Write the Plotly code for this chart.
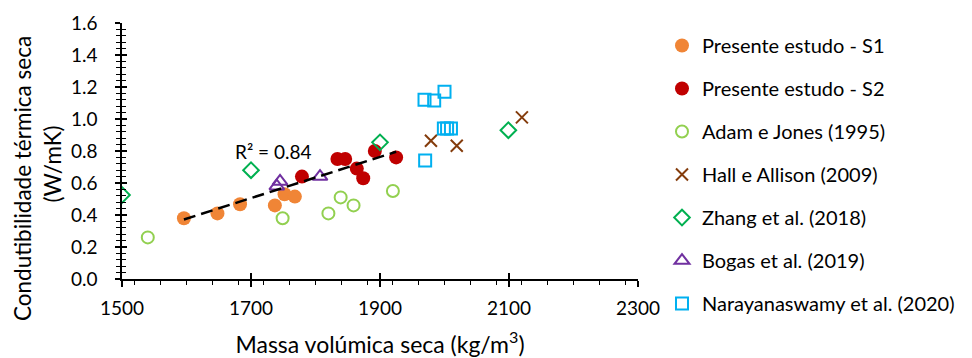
import plotly.graph_objects as go

# ---- data ----
s1_x = [1596, 1648, 1683, 1737, 1752, 1768]
s1_y = [0.38, 0.41, 0.467, 0.46, 0.53, 0.515]
s2_x = [1779, 1834, 1846, 1864, 1874, 1892, 1925]
s2_y = [0.64, 0.75, 0.75, 0.69, 0.63, 0.80, 0.76]
adam_x = [1540, 1749, 1820, 1839, 1859, 1920]
adam_y = [0.26, 0.38, 0.41, 0.51, 0.46, 0.55]
hall_x = [1979, 2019, 2120]
hall_y = [0.864, 0.833, 1.01]
zhang_x = [1500, 1700, 1900, 2099]
zhang_y = [0.525, 0.68, 0.854, 0.93]
bogas_x = [1740, 1745, 1807]
bogas_y = [0.58, 0.61, 0.64]
nara_x = [1969, 1984, 2000, 1999, 2004, 2010, 1970]
nara_y = [1.12, 1.115, 1.17, 0.94, 0.94, 0.94, 0.74]
trend_x = [1596, 1925]
trend_y = [0.372, 0.795]
x_ticks = [1500, 1700, 1900, 2100, 2300]
r2_label = "R² = 0.84"
y_title = ["Condutibilidade térmica seca", "(W/mK)"]

FONT = "Lato"
fig = go.Figure()

def add(name, x, y, symbol, color, size, filled, lw=2):
    if filled:
        marker = dict(symbol=symbol, size=size, color=color, line=dict(width=0))
    else:
        marker = dict(symbol=symbol, size=size, color=color, line=dict(color=color, width=lw))
    fig.add_trace(go.Scatter(x=x, y=y, mode="markers", name=name, marker=marker,
                             legendgroup=name))

add("Presente estudo - S1", s1_x, s1_y, "circle", "#F08536", 14, True)
add("Presente estudo - S2", s2_x, s2_y, "circle", "#C00000", 14, True)
add("Adam e Jones (1995)", adam_x, adam_y, "circle-open", "#92D050", 12, False)
add("Hall e Allison (2009)", hall_x, hall_y, "x-thin-open", "#843C0C", 12, False)
add("Zhang et al. (2018)", zhang_x, zhang_y, "diamond-open", "#00B050", 12, False)
add("Bogas et al. (2019)", bogas_x, bogas_y, "triangle-up-open", "#7030A0", 13, False)
add("Narayanaswamy et al. (2020)", nara_x, nara_y, "square-open", "#00B0F0", 12, False)

fig.add_trace(go.Scatter(x=trend_x, y=trend_y, mode="lines", showlegend=False,
                         line=dict(color="black", width=2.5, dash="12px,6px"), hoverinfo="skip"))

# invisible trace carrying the overlay axes (inner half of the crossing ticks)
fig.add_trace(go.Scatter(x=[x_ticks[0]], y=[0], xaxis="x2", yaxis="y2", mode="markers",
                         marker=dict(opacity=0), showlegend=False, hoverinfo="skip"))

fig.add_annotation(x=1672, y=0.795, text=r2_label, showarrow=False, xanchor="left",
                   yanchor="middle", font=dict(family=FONT, size=19, color="black"))

# y-axis title (two rotated lines)
fig.add_annotation(xref="paper", yref="paper", x=-0.1938, y=0.3945, text=y_title[0],
                   showarrow=False, textangle=-90, xanchor="center", yanchor="middle",
                   font=dict(family=FONT, size=22.5, color="black"))
fig.add_annotation(xref="paper", yref="paper", x=-0.135, y=0.449, text=y_title[1],
                   showarrow=False, textangle=-90, xanchor="center", yanchor="middle",
                   font=dict(family=FONT, size=22.5, color="black"))

fig.update_layout(
    width=964, height=350,
    margin=dict(l=114, r=334, t=15, b=79, autoexpand=False),
    paper_bgcolor="white", plot_bgcolor="white",
    font=dict(family=FONT, size=19, color="black"),
    legend=dict(x=1.0465, y=0.988, xanchor="left", yanchor="top",
                font=dict(family=FONT, size=20), traceorder="grouped",
                tracegroupgap=14, itemwidth=30, bgcolor="rgba(0,0,0,0)",
                maxheight=350),
    xaxis=dict(range=[1500, 2300], tickvals=x_ticks,
               showline=True, linecolor="black", linewidth=1.5, ticks="outside",
               ticklen=6, tickwidth=1.5, tickcolor="black", showgrid=False, zeroline=False,
               minor=dict(dtick=40, ticks="outside", ticklen=4, tickcolor="black", tickwidth=1),
               ticklabelstandoff=5, automargin=False,
               title=dict(text="Massa volúmica seca (kg/m<sup>3</sup>)", font=dict(size=23), standoff=19),
               tickfont=dict(size=19)),
    yaxis=dict(range=[0, 1.6], dtick=0.2, tickformat=".1f",
               showline=True, linecolor="black", linewidth=1.5, ticks="outside",
               ticklen=5, tickwidth=1.5, tickcolor="black", showgrid=False, zeroline=False,
               minor=dict(dtick=0.04, ticks="outside", ticklen=4, tickcolor="black", tickwidth=1),
               ticklabelstandoff=14, automargin=False,
               tickfont=dict(size=19)),
    xaxis2=dict(overlaying="x", anchor="y2", side="bottom", range=[1500, 2300], tickvals=x_ticks,
                ticks="inside", ticklen=6, tickwidth=1.5, tickcolor="black",
                showticklabels=False, showgrid=False, zeroline=False, showline=False),
    yaxis2=dict(overlaying="y", anchor="x2", side="left", range=[0, 1.6], dtick=0.2,
                ticks="inside", ticklen=5, tickwidth=1.5, tickcolor="black",
                minor=dict(dtick=0.04, ticks="inside", ticklen=4, tickcolor="black", tickwidth=1),
                showticklabels=False, showgrid=False, zeroline=False, showline=False),
)

fig.write_html("out.html")
